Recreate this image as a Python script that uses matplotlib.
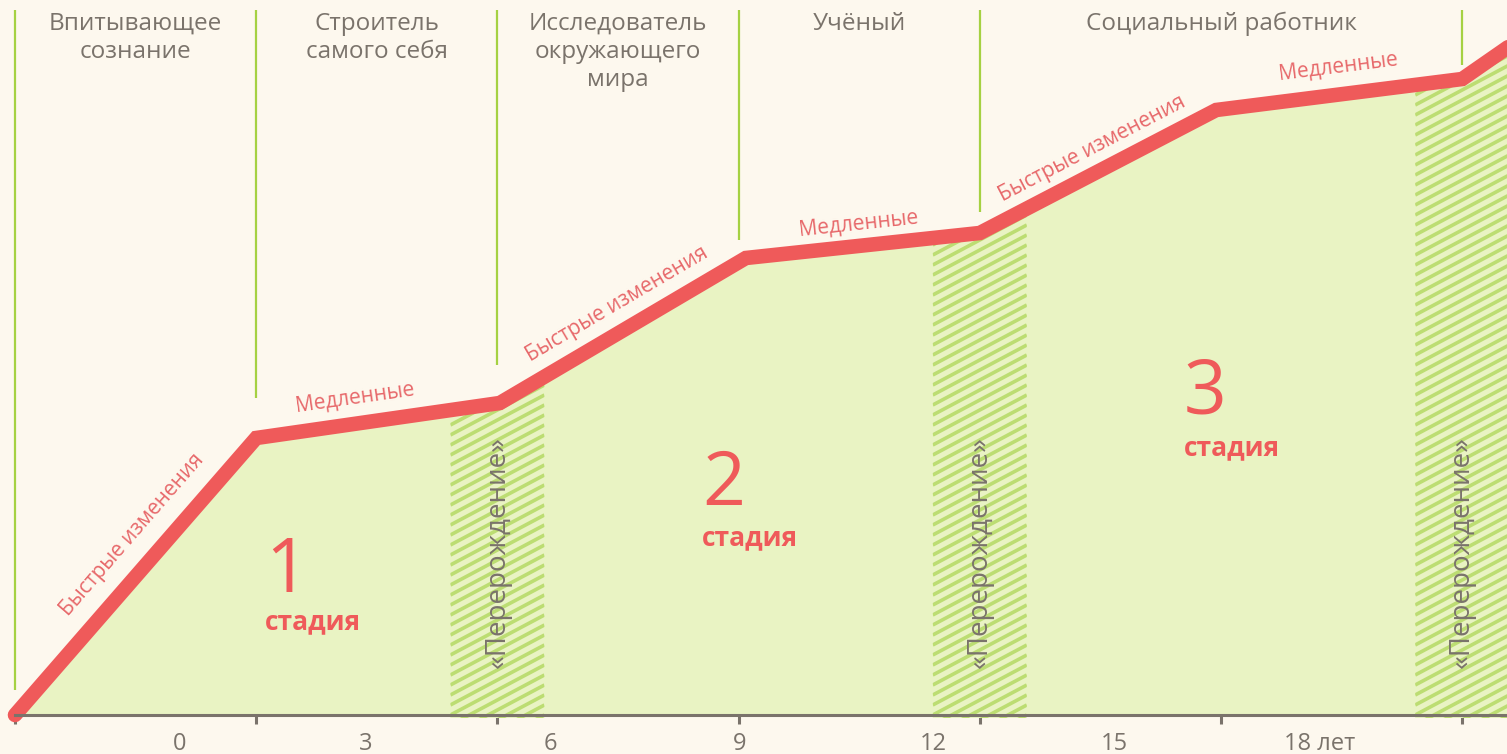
import matplotlib.pyplot as plt
import numpy as np
from matplotlib.collections import LineCollection

plt.rcParams['font.family'] = ['Open Sans', 'DejaVu Sans']

# кривая развития: x — в периодах (границы периодов = целые), y — уровень
curve_x = [0, 1.0, 2.01, 3.03, 4.0, 4.98, 6.0, 6.4]
curve_y = [0, 277, 312, 457, 482, 605, 636, 703]

# периоды
period_names = ['Впитывающее\nсознание', 'Строитель\nсамого себя',
                'Исследователь\nокружающего\nмира', 'Учёный', 'Социальный работник']
period_start = [0, 1, 2, 3, 4]
period_end = [1, 2, 3, 4, 6]

# вертикальные разделители
bound_x = [0, 1, 2, 3, 4, 6]
bound_bottom = [25, 317, 350, 475, 503, 650]
bound_top = 705

# ось возраста
tick_pos = [0, 1, 2, 3, 4, 5, 6]
age_labels = ['0', '3', '6', '9', '12', '15', '18 лет']
age_pos = [0.684, 1.455, 2.218, 3.003, 3.806, 4.557, 5.407]

# подписи вдоль кривой: текст, номер отрезка, доля длины
slope_texts = ['Быстрые изменения', 'Медленные', 'Быстрые изменения',
               'Медленные', 'Быстрые изменения', 'Медленные']
slope_seg = [0, 1, 2, 3, 4, 5]
slope_frac = [0.58, 0.42, 0.53, 0.49, 0.52, 0.51]
slope_off = [30, 26, 25, 22, 23, 28]

# стадии
stage_nums = ['1', '2', '3']
stage_x = [1.037, 2.848, 4.847]
stage_num_y = [123, 210, 301]
stage_word_y = [86, 170, 260]

# «перерождение»
rebirth_x = [2, 4, 6]
rebirth_half = 0.195
rebirth_y = 163

bg = '#fdf8ee'
green_fill = '#e9f3c3'
green_line = '#a5d142'
hatch_col = '#bcdd72'
red = '#ef5a5a'
pink = '#e7686a'
gray = '#7a736b'

fig = plt.figure(figsize=(15.07, 7.54), dpi=100, facecolor=bg)
ax = fig.add_axes([0, 0, 1, 1], facecolor=bg)
ax.set_xlim(-15 / 241.2, 1492 / 241.2)
ax.set_ylim(-39, 715)

ax.fill_between(curve_x, 0, curve_y, color=green_fill, lw=0, zorder=1)

# косая штриховка под углом ~28°
k = np.tan(np.radians(28)) * 241.2
for c in rebirth_x:
    xs = np.linspace(c - rebirth_half, c + rebirth_half, 50)
    band = ax.fill_between(xs, -3, np.interp(xs, curve_x, curve_y),
                           facecolor=green_fill, lw=0, zorder=2)
    x0, x1 = c - rebirth_half, c + rebirth_half
    segs = [[(x0, b), (x1, b + k * (x1 - x0))] for b in np.arange(-150, 720, 10)]
    lc = LineCollection(segs, colors=hatch_col, linewidths=2.6, zorder=2)
    ax.add_collection(lc)
    lc.set_clip_path(band.get_paths()[0], ax.transData)
    ax.text(c, rebirth_y, '«Перерождение»', rotation=90, ha='center', va='center',
            fontsize=20, color=gray, zorder=5)

ax.vlines(bound_x, bound_bottom, bound_top, color=green_line, lw=1.6, zorder=3)

ax.plot(curve_x, curve_y, color=red, lw=10.5, solid_joinstyle='miter',
        solid_capstyle='round', zorder=4)

for name, s, e in zip(period_names, period_start, period_end):
    ax.text((s + e) / 2, 703, name, ha='center', va='top', fontsize=17.5,
            color=gray, linespacing=1.22)

for txt, i, f, off in zip(slope_texts, slope_seg, slope_frac, slope_off):
    x0, y0 = curve_x[i], curve_y[i]
    x1, y1 = curve_x[i + 1], curve_y[i + 1]
    p0 = ax.transData.transform((x0, y0))
    p1 = ax.transData.transform((x1, y1))
    d = p1 - p0
    ang = np.degrees(np.arctan2(d[1], d[0]))
    n = np.array([-d[1], d[0]]) / np.hypot(*d)
    ax.annotate(txt, (x0 + f * (x1 - x0), y0 + f * (y1 - y0)),
                xytext=(n[0] * off, n[1] * off), textcoords='offset pixels',
                rotation=ang, rotation_mode='anchor', ha='center', va='center',
                fontsize=15, color=pink, zorder=5)

for num, x, yn, yw in zip(stage_nums, stage_x, stage_num_y, stage_word_y):
    ax.text(x, yn, num, ha='left', va='baseline', fontsize=54, color=red, zorder=5)
    ax.text(x, yw, 'стадия', ha='left', va='baseline', fontsize=19,
            fontweight='bold', color=red, zorder=5)

for sp in ['top', 'left', 'right']:
    ax.spines[sp].set_visible(False)
ax.spines['bottom'].set_position(('data', 0))
ax.spines['bottom'].set_bounds(0, 6.4)
ax.spines['bottom'].set_color(gray)
ax.spines['bottom'].set_linewidth(2.2)
ax.spines['bottom'].set_zorder(6)
ax.set_yticks([])
ax.set_xticks(tick_pos)
ax.set_xticklabels([''] * len(tick_pos))
ax.set_xticks(age_pos, minor=True)
ax.set_xticklabels(age_labels, minor=True)
ax.tick_params(axis='x', which='major', length=6.5, width=2.2, color=gray, direction='out')
ax.tick_params(axis='x', which='minor', length=0, pad=12, labelsize=17, labelcolor=gray)

fig.savefig('out.png', dpi=100, facecolor=bg)
